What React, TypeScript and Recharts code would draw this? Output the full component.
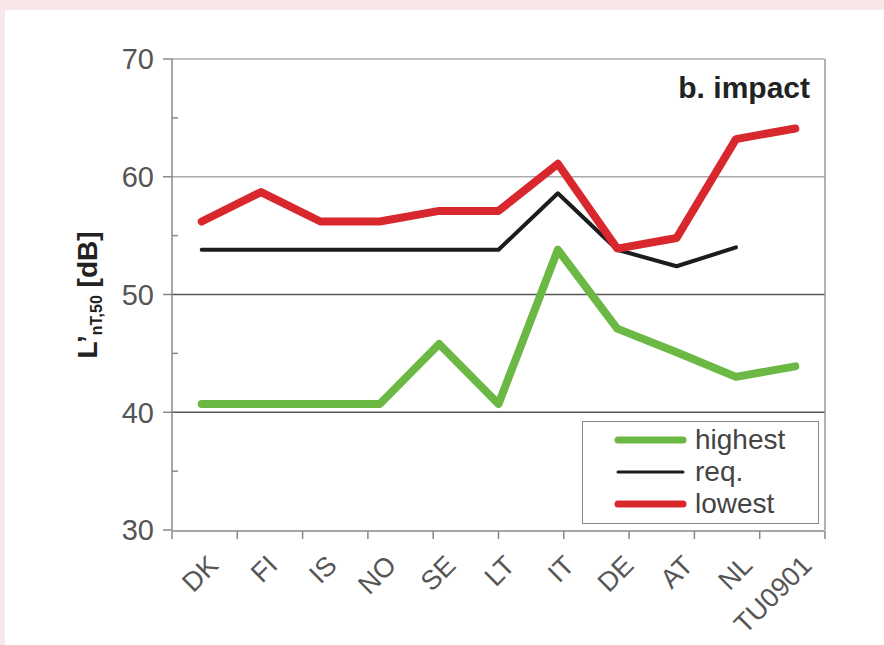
import React from 'react'
import { LineChart, Line, XAxis, YAxis, ReferenceLine, Legend } from 'recharts'

const countries = ['DK', 'FI', 'IS', 'NO', 'SE', 'LT', 'IT', 'DE', 'AT', 'NL', 'TU0901']
const highest = [40.7, 40.7, 40.7, 40.7, 45.8, 40.7, 53.8, 47.1, 45.1, 43.0, 43.9]
const req = [53.8, 53.8, 53.8, 53.8, 53.8, 53.8, 58.6, 53.8, 52.4, 54.0, null]
const lowest = [56.2, 58.7, 56.2, 56.2, 57.1, 57.1, 61.1, 53.9, 54.8, 63.2, 64.1]

const yTicks = [30, 40, 50, 60, 70]
const yMinorTicks = [35, 45, 55, 65]
const gridValues = [40, 50, 60, 70]
const bandEdges = [0, 1, 2, 3, 4, 5, 6, 7, 8, 9, 10, 11]

const series = [
  { key: 'highest', name: 'highest', color: '#6cb844', width: 8 },
  { key: 'req', name: 'req.', color: '#1c1c1c', width: 4 },
  { key: 'lowest', name: 'lowest', color: '#d8282e', width: 8 },
]

const data = countries.map((country, i) => ({
  country,
  highest: highest[i],
  req: req[i],
  lowest: lowest[i],
}))

const FONT = '"Liberation Sans", Arial, sans-serif'

function XTick({ x, y, payload }: any) {
  const ax = x + 18
  const ay = y + 35
  return (
    <text
      x={ax}
      y={ay}
      transform={`rotate(-45, ${ax}, ${ay})`}
      textAnchor="end"
      fontSize={27}
      fontFamily={FONT}
      fill="#555"
    >
      {payload.value}
    </text>
  )
}

function LegendBox() {
  return (
    <div
      style={{
        border: '1px solid #888',
        background: '#fff',
        width: 235,
        height: 99,
        boxSizing: 'content-box',
        fontFamily: FONT,
        paddingTop: 2,
      }}
    >
      {series.map((s) => (
        <div key={s.key} style={{ display: 'flex', alignItems: 'center', height: 32 }}>
          <svg width={112} height={32}>
            <line
              x1={35}
              x2={100}
              y1={16}
              y2={16}
              stroke={s.color}
              strokeWidth={s.width - 1}
              strokeLinecap="round"
            />
          </svg>
          <span style={{ fontSize: 28, color: '#444', lineHeight: '32px' }}>{s.name}</span>
        </div>
      ))}
    </div>
  )
}

export default function App() {
  return (
    <div
      style={{
        position: 'absolute',
        left: 0,
        top: 0,
        width: 884,
        height: 645,
        background: '#f7e7e9',
        overflow: 'hidden',
      }}
    >
      <div style={{ position: 'absolute', left: 5, top: 10, right: 0, bottom: 0, background: '#fff' }} />
      <div style={{ position: 'absolute', left: 0, top: 0 }}>
        <LineChart
          width={884}
          height={645}
          data={data}
          margin={{ top: 59, right: 58, bottom: 0, left: 100 }}
        >
          <XAxis
            dataKey="country"
            interval={0}
            padding={{ left: 29.7, right: 29.7 }}
            tickSize={0}
            tickLine={false}
            axisLine={false}
            height={1}
            tick={<XTick />}
          />
          <XAxis
            xAxisId="grid"
            type="number"
            domain={[0, 11]}
            allowDataOverflow
            ticks={bandEdges}
            tick={() => <g />}
            tickSize={8}
            height={114}
            axisLine={{ stroke: '#888', strokeWidth: 1.5 }}
            tickLine={{ stroke: '#888', strokeWidth: 1.5 }}
          />
          <YAxis
            domain={[30, 70]}
            ticks={yTicks}
            width={72}
            tickSize={9}
            tickMargin={9}
            axisLine={{ stroke: '#888', strokeWidth: 1.5 }}
            tickLine={{ stroke: '#888', strokeWidth: 1.5 }}
            tick={{ fontSize: 29, fontFamily: FONT, fill: '#555' }}
          />
          <YAxis
            yAxisId="minor"
            domain={[30, 70]}
            allowDataOverflow
            ticks={yMinorTicks}
            mirror
            width={1}
            tick={() => <g />}
            tickSize={6}
            axisLine={false}
            tickLine={{ stroke: '#888', strokeWidth: 1.5 }}
          />
          <YAxis
            yAxisId="frame"
            orientation="right"
            domain={[30, 70]}
            allowDataOverflow
            ticks={yTicks}
            width={1}
            tick={() => <g />}
            tickLine={false}
            axisLine={{ stroke: '#999', strokeWidth: 1.5 }}
          />
          {gridValues.map((v) => (
            <ReferenceLine
              key={v}
              y={v}
              stroke={v < 60 ? '#555' : '#aaa'}
              strokeWidth={1.5}
            />
          ))}
          <Legend
            layout="vertical"
            align="center"
            verticalAlign="middle"
            wrapperStyle={{ left: 582, top: 421, width: 237, height: 101 }}
            content={() => <LegendBox />}
          />
          {series.map((s) => (
            <Line
              key={s.key}
              dataKey={s.key}
              name={s.name}
              stroke={s.color}
              strokeWidth={s.width}
              strokeLinejoin="round"
              strokeLinecap="round"
              dot={false}
              activeDot={false}
              isAnimationActive={false}
            />
          ))}
        </LineChart>
      </div>
      <svg
        width={884}
        height={645}
        style={{ position: 'absolute', left: 0, top: 0, pointerEvents: 'none' }}
      >
        <text
          x={810}
          y={98}
          textAnchor="end"
          fontSize={30}
          fontWeight="bold"
          fontFamily={FONT}
          fill="#222"
        >
          b. impact
        </text>
        <text
          transform="translate(97, 295) rotate(-90)"
          textAnchor="middle"
          fontSize={28}
          fontWeight="bold"
          fontFamily={FONT}
          fill="#222"
        >
          L’
          <tspan fontSize={16} dy={5}>nT,50</tspan>
          <tspan dy={-5}> [dB]</tspan>
        </text>
      </svg>
    </div>
  )
}
